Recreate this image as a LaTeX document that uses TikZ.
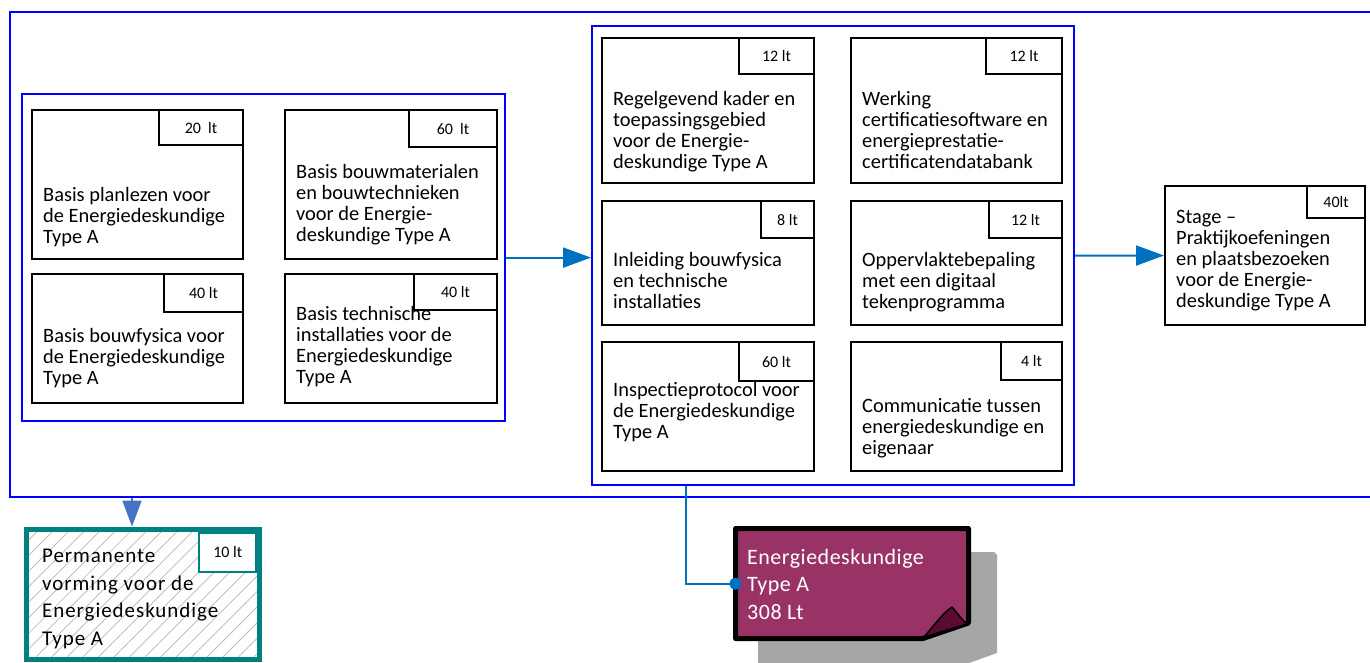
\documentclass[tikz,border=0pt]{standalone}
\usepackage{tikz}
\usepackage{xcolor}
\usepackage{fontspec}
\setmainfont{Carlito}
\newfontfamily\edWide[LetterSpace=4.5]{Carlito}
\newfontfamily\edNote[LetterSpace=2.3]{Carlito}
\usetikzlibrary{arrows.meta, calc, patterns.meta}
\definecolor{edGroupS}{HTML}{0000FF}
\definecolor{edLink}{HTML}{0070C0}
\definecolor{edLinkDown}{HTML}{4472C4}
\definecolor{edTeal}{HTML}{008080}
\definecolor{edCertF}{HTML}{993366}
\definecolor{edCurlF}{HTML}{5C0A30}
\definecolor{edShadow}{HTML}{A6A6A6}
\definecolor{edHatch}{HTML}{B4B4B4}
\tikzset{
  edGroup/.style={rectangle, draw=edGroupS, line width=2.2pt, anchor=north west, inner sep=0pt},
  edCourse/.style={rectangle, draw=black, line width=2pt, fill=white, anchor=north west, inner sep=0pt},
  edHours/.style={rectangle, draw=black, line width=2pt, fill=white, anchor=north east,
                  inner sep=0pt, font=\fontsize{16}{18}\selectfont},
  % anchored at the baseline of the last line
  edText/.style={anchor=base west, align=left, inner sep=0pt, font=\fontsize{20.4}{21}\selectfont},
  edArrow/.style={-{Triangle[length=28pt, width=20pt]}, line width=2pt, draw=edLink, fill=edLink},
}

\begin{document}
\begin{tikzpicture}[
    x=1pt, y=-1pt,
    permbox/.style={edCourse, draw=edTeal, line width=5pt,
                    pattern={Lines[angle=45, distance=11pt, line width=0.7pt]}, pattern color=edHatch},
    wide/.style={anchor=base west, align=left, inner sep=0pt}
]
  \useasboundingbox (0,0) rectangle (1370,662);

  % ─── Groups ───────────────────────────────────────────────────────────────────
  \node[edGroup, minimum width=1400pt, minimum height=485pt] (outer) at (9,11) {};
  \node[edGroup, minimum width=483pt, minimum height=327pt] (leftGrp) at (21,93) {};
  \node[edGroup, minimum width=482pt, minimum height=459pt] (midGrp) at (591,25) {};

  % ─── Left group: basis courses ────────────────────────────────────────────────
  \node[edCourse, minimum width=211pt, minimum height=149pt] (plan) at (31,109) {};
  \node[edHours, minimum width=84pt, minimum height=35pt] (planH) at (plan.north east) {20\ \ lt};
  \node[edText] (planT) at (43,243) {Basis planlezen voor\\de Energiedeskundige\\Type A};

  \node[edCourse, minimum width=212pt, minimum height=149pt] (bouw) at (284,109) {};
  \node[edHours, minimum width=88pt, minimum height=37pt] (bouwH) at (bouw.north east) {60\ \ lt};
  \node[edText] (bouwT) at (296,241) {Basis bouwmaterialen\\en bouwtechnieken\\voor de Energie-\\deskundige Type A};

  \node[edCourse, minimum width=211pt, minimum height=129pt] (fys) at (31,273) {};
  \node[edHours, minimum width=79pt, minimum height=38pt] (fysH) at (fys.north east) {40 lt};
  \node[edText] (fysT) at (43,384) {Basis bouwfysica voor\\de Energiedeskundige\\Type A};

  \node[edCourse, minimum width=212pt, minimum height=129pt] (tech) at (284,273) {};
  \node[edHours, minimum width=83pt, minimum height=36pt] (techH) at (tech.north east) {40 lt};
  \node[edText] (techT) at (296,383) {Basis technische\\installaties voor de\\Energiedeskundige\\Type A};

  % ─── Middle group ─────────────────────────────────────────────────────────────
  \node[edCourse, minimum width=212pt, minimum height=145pt] (regel) at (601,37) {};
  \node[edHours, minimum width=75pt, minimum height=36pt] (regelH) at (regel.north east) {12 lt};
  \node[edText] (regelT) at (613,168) {Regelgevend kader en\\toepassingsgebied\\voor de Energie-\\deskundige Type A};

  \node[edCourse, minimum width=211pt, minimum height=145pt] (soft) at (850,37) {};
  \node[edHours, minimum width=76pt, minimum height=36pt] (softH) at (soft.north east) {12 lt};
  \node[edText] (softT) at (862,168) {Werking\\certificatiesoftware en\\energieprestatie-\\certificatendatabank};

  \node[edCourse, minimum width=212pt, minimum height=124pt] (inl) at (601,200) {};
  \node[edHours, minimum width=53pt, minimum height=37pt] (inlH) at (inl.north east) {8 lt};
  \node[edText] (inlT) at (613,308) {Inleiding bouwfysica\\en technische\\installaties};

  \node[edCourse, minimum width=211pt, minimum height=124pt] (opp) at (850,200) {};
  \node[edHours, minimum width=73pt, minimum height=37pt] (oppH) at (opp.north east) {12 lt};
  \node[edText] (oppT) at (862,308) {Oppervlaktebepaling\\met een digitaal\\tekenprogramma};

  \node[edCourse, minimum width=212pt, minimum height=129pt] (insp) at (601,341) {};
  \node[edHours, minimum width=75pt, minimum height=39pt] (inspH) at (insp.north east) {60 lt};
  \node[edText] (inspT) at (613,438) {Inspectieprotocol voor\\de Energiedeskundige\\Type A};

  \node[edCourse, minimum width=211pt, minimum height=129pt] (comm) at (850,341) {};
  \node[edHours, minimum width=61pt, minimum height=38pt] (commH) at (comm.north east) {4 lt};
  \node[edText] (commT) at (862,454) {Communicatie tussen\\energiedeskundige en\\eigenaar};

  % ─── Stage ────────────────────────────────────────────────────────────────────
  \node[edCourse, minimum width=200pt, minimum height=139pt] (stage) at (1164,185) {};
  \node[edHours, minimum width=58pt, minimum height=32pt] (stageH) at (stage.north east) {40lt};
  \node[edText] (stageT) at (1176,307) {Stage --\\Praktijkoefeningen\\en plaatsbezoeken\\voor de Energie-\\deskundige Type A};

  \draw[edArrow] (leftGrp.east) -- (leftGrp.east -| midGrp.west);
  \draw[edArrow] (midGrp) -- (stage);

  % ─── Permanente vorming, below the outer frame ────────────────────────────────
  \node[permbox, minimum width=232.5pt, minimum height=130.5pt] (perm) at (26.5,529) {};
  \node[edHours, draw=edTeal, minimum width=57pt, minimum height=39.5pt] (permH)
        at ($(perm.north east)+(-2.5,2.5)$) {10 lt};
  \node[wide, font=\edWide\fontsize{21}{27.5}\selectfont] (permT) at (42,645)
        {Permanente\\vorming voor de\\Energiedeskundige\\Type A};
  \draw[-{Triangle[length=26pt, width=19pt]}, line width=2pt, draw=edLinkDown, fill=edLinkDown,
        shorten >=2.5pt] (outer.south -| 132,0) -- (perm.north -| 132,0);

  % ─── Total: folded note with shadow ───────────────────────────────────────────
  \fill[edShadow] (758,552) -- (994,552) -- (997,555) -- (997,653) -- (955,668) -- (758,668) -- cycle;
  \node[minimum width=233pt, minimum height=110pt, anchor=north west, inner sep=0pt] (cert) at (735.5,528.5) {};
  \draw[line width=5pt, fill=edCertF, line join=round]
        (735.5,528.5) -- (968.5,528.5) -- (968.5,623) -- (923,638.5) -- (735.5,638.5) -- cycle;
  \draw[line width=1.5pt, fill=edCurlF, line join=round]
        (924,637) .. controls (935,624) and (944,612) .. (952,607)
        .. controls (958,614) and (962,620) .. (967,624) -- cycle;
  \node[wide, text=white, font=\edNote\fontsize{22}{27.5}\selectfont] (certT) at (747,619)
        {Energiedeskundige\\Type A\\308 Lt};
  \draw[edLink, line width=2pt] (midGrp.south -| 686,0) |- (cert.west);
  \fill[edLink] (cert.west) circle (6pt);

\end{tikzpicture}
\end{document}
